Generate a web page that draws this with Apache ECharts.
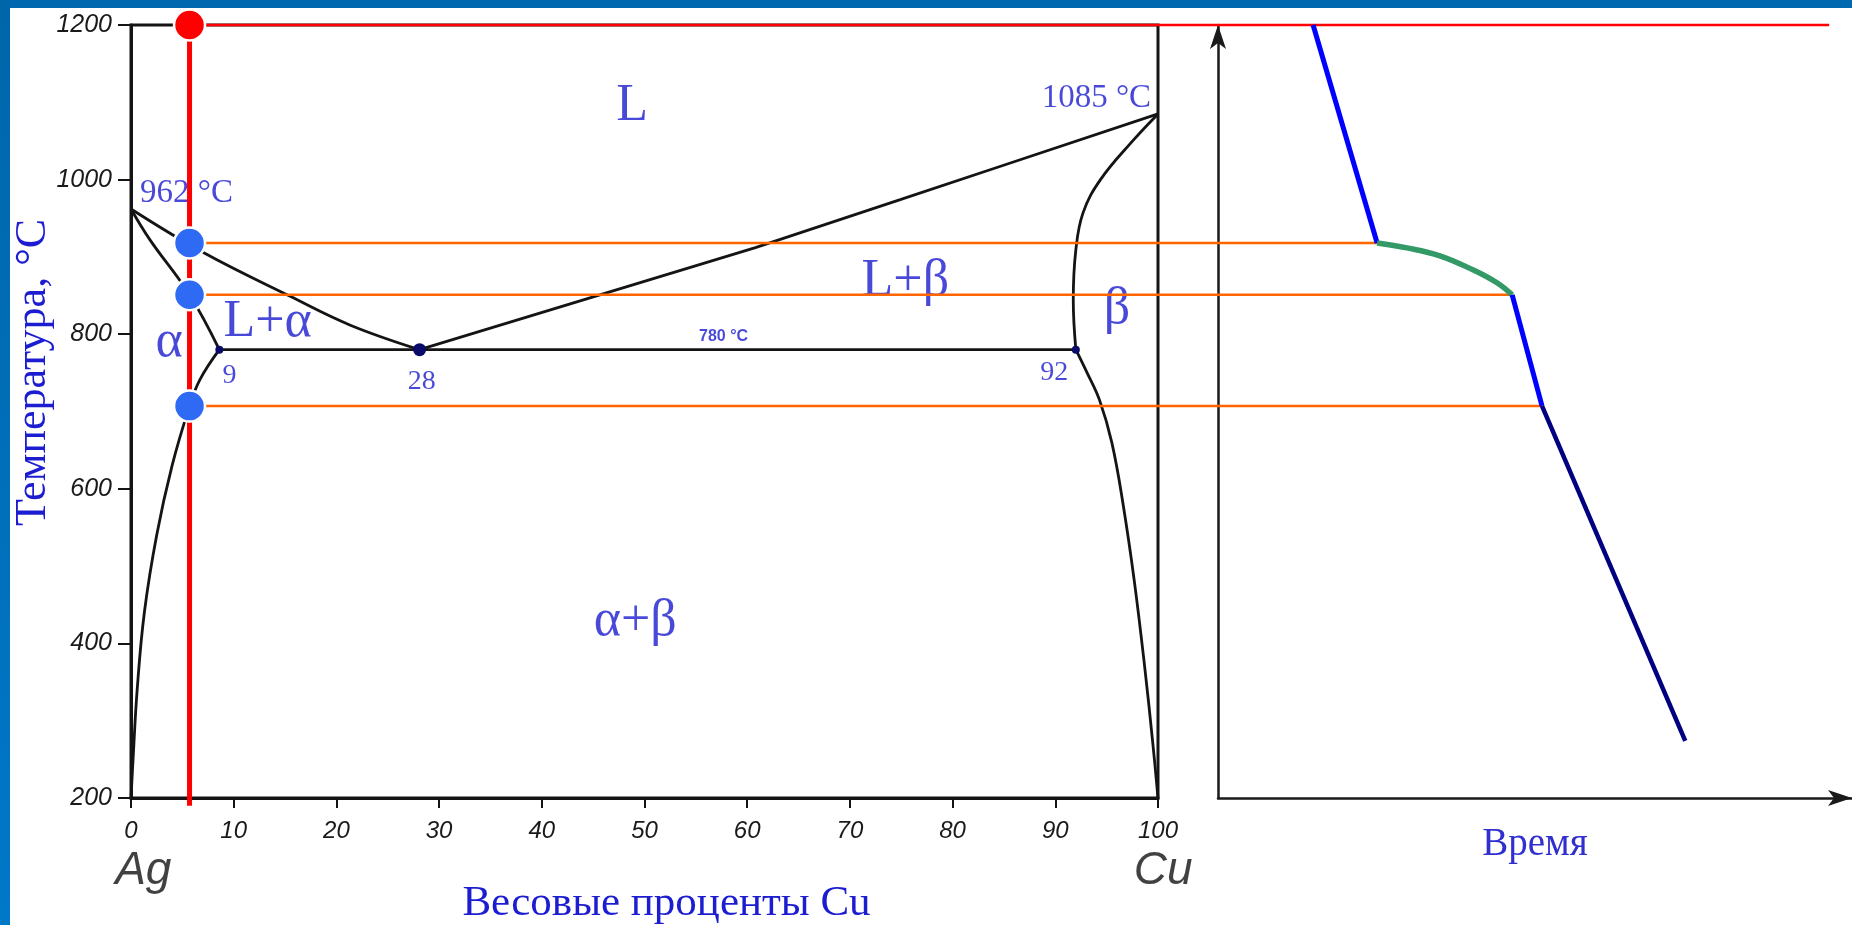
<!DOCTYPE html>
<html>
<head>
<meta charset="utf-8">
<script src="https://cdn.jsdelivr.net/npm/echarts@6/dist/echarts.min.js"></script>
<style>
html,body{margin:0;padding:0;background:#fff;}
#c{width:1852px;height:925px;}
</style>
</head>
<body>
<div id="c"></div>
<script>
// ---------- data ----------
const xTicks = [0, 10, 20, 30, 40, 50, 60, 70, 80, 90, 100];
const yTicks = [200, 400, 600, 800, 1000, 1200];
const alloyCu = 5.7;

const liquidusAg = [[0, 962], [7, 906], [15.5, 849], [21.3, 812], [28.1, 780]];
const solidusAg = [[0, 962], [1.85, 922], [5.7, 851], [8.6, 780]];
const solvusAg = [[8.6, 780], [6.7, 741], [5.7, 707], [4.0, 630], [2.5, 540], [1.3, 440], [0.6, 340], [0.2, 250], [0, 200]];
const eutecticLine = [[8.6, 780], [92, 780]];
const liquidusCu = [[28.1, 780], [60.8, 912], [74.9, 974], [84.6, 1017], [100, 1085]];
const solidusCu = [[100, 1085], [97.6, 1051], [94.4, 1000], [92.7, 957], [92.0, 909], [91.75, 844], [92, 780]];
const solvusCu = [[92, 780], [93.1, 750], [94.3, 715], [95.5, 660], [96.6, 580], [97.7, 480], [98.7, 370], [99.5, 270], [100, 200]];
const eutecticPoints = [[8.6, 780], [28.1, 780], [92, 780]];

const alloyLine = [[alloyCu, 1200], [alloyCu, 190]];
const startPoint = [[alloyCu, 1200]];
const transitionPoints = [[alloyCu, 918], [alloyCu, 851], [alloyCu, 707]];

const guideTemps = [1200, 918, 851, 707];
const guideEndTimes = [96.4, 25.1, 46.4, 51.1];

const coolingLiquid = [[15, 1200], [25.1, 918]];
const coolingCrystallization = [[25.1, 918], [29.8, 911.7], [35, 901.4], [40.2, 883.3], [44, 866.5], [46.4, 850.9]];
const coolingSolid = [[46.4, 850.9], [51.1, 707.4]];
const coolingSolvus = [[51.1, 707.4], [73.7, 274]];

const regionNames = ['L', 'L+α', 'α', 'L+β', 'β', 'α+β'];
const regionPos = [[48.8, 1095], [13.3, 815], [3.7, 790], [75.4, 868], [96.0, 832], [49.1, 428]];
const meltNames = ['962 °C', '1085 °C'];
const meltPos = [[5.4, 982], [94.0, 1105]];
const compNames = ['9', '28', '92'];
const compPos = [[9.6, 746], [28.3, 739], [89.9, 750]];
const eutecticTempName = ['780 °C'];
const eutecticTempPos = [[57.7, 797]];
const elementNames = ['Ag', 'Cu'];
const elementPos = [[1.2, 105], [100.5, 105]];

// ---------- chart ----------
const chart = echarts.init(document.getElementById('c'), null, {renderer: 'canvas'});
const SERIF = '"Liberation Serif", "DejaVu Serif", serif';
const SANS = '"Liberation Sans", Arial, sans-serif';
const BLUE_TXT = '#1c1cd0';

function labelData(names, pos) {
  return names.map((n, i) => ({name: n, value: pos[i]}));
}
function labelSeries(names, pos, style) {
  return {
    type: 'scatter', xAxisIndex: 0, yAxisIndex: 0, symbolSize: 0, clip: false, z: 1, silent: true,
    data: labelData(names, pos),
    label: Object.assign({show: true, position: 'inside', formatter: '{b}'}, style)
  };
}
function phaseLine(data, smooth) {
  return {
    type: 'line', xAxisIndex: 0, yAxisIndex: 0, data: data, smooth: smooth ? 0.4 : false,
    symbol: 'none', clip: false, z: 2, silent: true,
    lineStyle: {color: '#141414', width: 2.8}
  };
}

const option = {
  animation: false,
  backgroundColor: '#ffffff',
  graphic: [
    {type: 'rect', shape: {x: 0, y: 0, width: 1852, height: 8}, style: {fill: '#0068ae'}, z: 100},
    {type: 'rect', shape: {x: 0, y: 0, width: 10, height: 925},
      style: {fill: new echarts.graphic.LinearGradient(0, 0, 0, 1, [{offset: 0, color: '#0066aa'}, {offset: 1, color: '#0078c8'}])}, z: 100}
  ],
  grid: [
    {left: 131, right: 694, top: 25, bottom: 127, show: true, borderColor: '#141414', borderWidth: 3,
      backgroundColor: 'transparent', containLabel: false, outerBoundsMode: 'none'},
    {left: 1218, right: 0, top: 25, bottom: 127, containLabel: false, outerBoundsMode: 'none'}
  ],
  xAxis: [
    {
      gridIndex: 0, type: 'value', min: 0, max: 100, interval: 10,
      name: 'Весовые проценты Cu', nameLocation: 'middle', nameGap: 84, nameMoveOverlap: false,
      nameTextStyle: {fontFamily: SERIF, fontSize: 43, color: BLUE_TXT, padding: [0, 0, 0, 44]},
      axisLine: {show: true, lineStyle: {color: '#141414', width: 3}},
      axisTick: {show: true, inside: false, length: 10, lineStyle: {color: '#141414', width: 2}},
      axisLabel: {margin: 21, fontFamily: SANS, fontStyle: 'italic', fontSize: 24, color: '#1a1a1a',
        formatter: function (v) { return xTicks.indexOf(v) >= 0 ? String(v) : ''; }},
      splitLine: {show: false}
    },
    {
      gridIndex: 1, type: 'value', min: 0, max: 100,
      name: 'Время', nameLocation: 'middle', nameGap: 27, nameMoveOverlap: false,
      nameTextStyle: {fontFamily: SERIF, fontSize: 39, color: '#3030d0'},
      axisLine: {show: true, symbol: ['none', 'arrow'], symbolSize: [12, 24], lineStyle: {color: '#1a1a1a', width: 2.5}},
      axisTick: {show: false}, axisLabel: {show: false}, splitLine: {show: false}
    }
  ],
  yAxis: [
    {
      gridIndex: 0, type: 'value', min: 200, max: 1200, interval: 200,
      name: 'Температура, °C', nameLocation: 'middle', nameRotate: 90, nameGap: 76, nameMoveOverlap: false,
      nameTextStyle: {fontFamily: SERIF, fontSize: 44, color: BLUE_TXT, padding: [0, 0, 0, 78]},
      axisLine: {show: true, lineStyle: {color: '#141414', width: 3}},
      axisTick: {show: true, inside: false, length: 13, lineStyle: {color: '#141414', width: 2}},
      axisLabel: {margin: 19, fontFamily: SANS, fontStyle: 'italic', fontSize: 25, color: '#1a1a1a',
        formatter: function (v) { return yTicks.indexOf(v) >= 0 ? String(v) : ''; }},
      splitLine: {show: false}
    },
    {
      gridIndex: 1, type: 'value', min: 200, max: 1200,
      axisLine: {show: true, symbol: ['none', 'arrow'], symbolSize: [12, 24], lineStyle: {color: '#1a1a1a', width: 2.5}},
      axisTick: {show: false}, axisLabel: {show: false}, splitLine: {show: false}
    }
  ],
  series: [
    labelSeries(regionNames, regionPos, {fontFamily: SERIF, fontSize: 52, color: BLUE_TXT}),
    labelSeries(meltNames, meltPos, {fontFamily: SERIF, fontSize: 33, color: BLUE_TXT}),
    labelSeries(compNames, compPos, {fontFamily: SERIF, fontSize: 28, color: BLUE_TXT}),
    labelSeries(eutecticTempName, eutecticTempPos, {fontFamily: SANS, fontSize: 16, fontWeight: 'bold', color: BLUE_TXT}),
    labelSeries(elementNames, elementPos, {fontFamily: SANS, fontStyle: 'italic', fontSize: 46, color: '#111111'}),

    phaseLine(liquidusAg, true),
    phaseLine(solidusAg, true),
    phaseLine(solvusAg, true),
    phaseLine(eutecticLine, false),
    phaseLine(liquidusCu, false),
    phaseLine(solidusCu, true),
    phaseLine(solvusCu, true),
    {
      type: 'scatter', xAxisIndex: 0, yAxisIndex: 0, z: 3, silent: true,
      data: eutecticPoints,
      symbolSize: function (v, p) { return p.dataIndex === 1 ? 13 : 8; },
      itemStyle: {color: '#0a0a6a', opacity: 1}
    },
    {
      type: 'line', xAxisIndex: 0, yAxisIndex: 0, data: alloyLine, symbol: 'none', clip: false, z: 4, silent: true,
      lineStyle: {color: '#ff0000', width: 5}
    },
    {
      type: 'custom', xAxisIndex: 0, yAxisIndex: 0, clip: false, z: 5, silent: true,
      data: guideTemps.map(function (T, i) { return [alloyCu, T, guideEndTimes[i], i]; }),
      renderItem: function (params, api) {
        const s = api.coord([api.value(0), api.value(1)]);
        let e;
        try {
          e = chart.convertToPixel({gridIndex: 1}, [api.value(2), api.value(1)]);
        } catch (err) { e = null; }
        if (!e) { e = [s[0] + 1000, s[1]]; }
        const first = api.value(3) === 0;
        return {
          type: 'line',
          shape: {x1: s[0], y1: s[1], x2: e[0], y2: e[1]},
          style: {stroke: first ? '#ff0000' : '#ff6600', lineWidth: 2.5}
        };
      }
    },
    {
      type: 'scatter', xAxisIndex: 0, yAxisIndex: 0, z: 6, clip: false, silent: true,
      data: startPoint, symbolSize: 31,
      itemStyle: {color: '#ff0000', borderColor: '#ffffff', borderWidth: 2.5, opacity: 1}
    },
    {
      type: 'scatter', xAxisIndex: 0, yAxisIndex: 0, z: 6, clip: false, silent: true,
      data: transitionPoints, symbolSize: 31,
      itemStyle: {color: '#2f6af5', borderColor: '#ffffff', borderWidth: 2.5, opacity: 1}
    },

    {type: 'line', xAxisIndex: 1, yAxisIndex: 1, data: coolingLiquid, symbol: 'none', z: 6, clip: false, silent: true,
      lineStyle: {color: '#0000ff', width: 5}},
    {type: 'line', xAxisIndex: 1, yAxisIndex: 1, data: coolingCrystallization, symbol: 'none', smooth: 0.4, z: 6, clip: false, silent: true,
      lineStyle: {color: '#339966', width: 5.5}},
    {type: 'line', xAxisIndex: 1, yAxisIndex: 1, data: coolingSolid, symbol: 'none', z: 6, clip: false, silent: true,
      lineStyle: {color: '#0000ff', width: 5}},
    {type: 'line', xAxisIndex: 1, yAxisIndex: 1, data: coolingSolvus, symbol: 'none', z: 6, clip: false, silent: true,
      lineStyle: {color: '#000080', width: 4.5}}
  ]
};
chart.setOption(option);
</script>
</body>
</html>
